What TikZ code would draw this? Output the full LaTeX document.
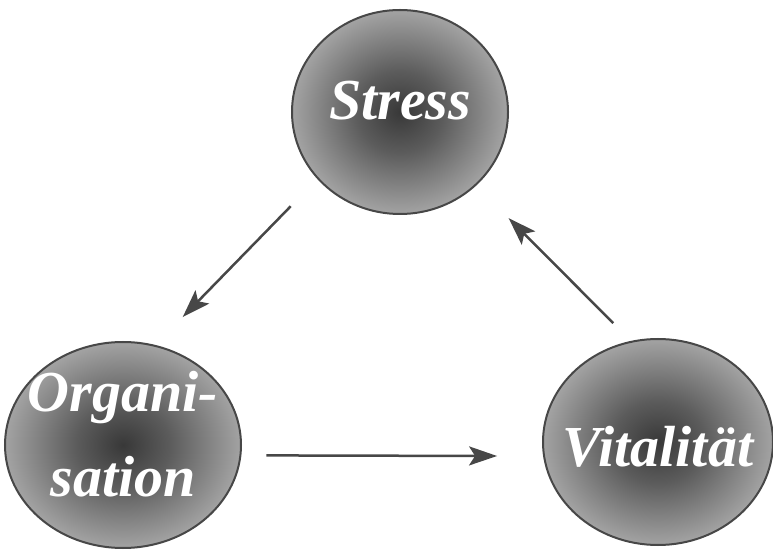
\documentclass[tikz,border=0pt]{standalone}
\usepackage{fontspec}
\setmainfont{Liberation Serif}
\usetikzlibrary{shapes,arrows}
\usetikzlibrary{arrows.meta}
\pgfdeclareradialshading{darkball}{\pgfpointorigin}{color(0bp)=(black!78); color(10bp)=(black!64); color(25bp)=(black!36); color(50bp)=(black!36)}
\tikzstyle{ball} = [ellipse, draw=black!72, line width=2pt, shading=darkball, inner sep=0pt]
\tikzstyle{word} = [text=white, font=\fontsize{58}{85}\selectfont\bfseries\itshape, align=center]
\tikzstyle{line} = [draw=black!72, line width=2.5pt, -{Stealth[length=28pt, width=19pt, inset=6pt]}]

\begin{document}
\begin{tikzpicture}[x=1pt, y=1pt]
      \useasboundingbox (0,0) rectangle (773,549);
      \node [ball, minimum width=216pt, minimum height=204pt] (stress) at (400, 437) {};
      \node [ball, minimum width=236pt, minimum height=206pt] (org) at (123, 104) {};
      \node [ball, minimum width=230pt, minimum height=206pt] (vit) at (658, 107) {};
      \node [word, yshift=11pt] (stresstxt) at (stress) {Stress};
      \node [word, yshift=11pt] (orgtxt) at (org) {Organi-\\sation};
      \node [word, yshift=-5pt] (vittxt) at (vit) {Vitalität};
      \path [line, shorten <=38pt, shorten >=39pt] (stress.219) -- (org.72);
      \path [line, shorten <=25pt, shorten >=46pt] (org.355) -- (vit.187);
      \path [line, shorten <=25pt, shorten >=46pt] (vit.105) -- (stress.316);
  \end{tikzpicture}
\end{document}
